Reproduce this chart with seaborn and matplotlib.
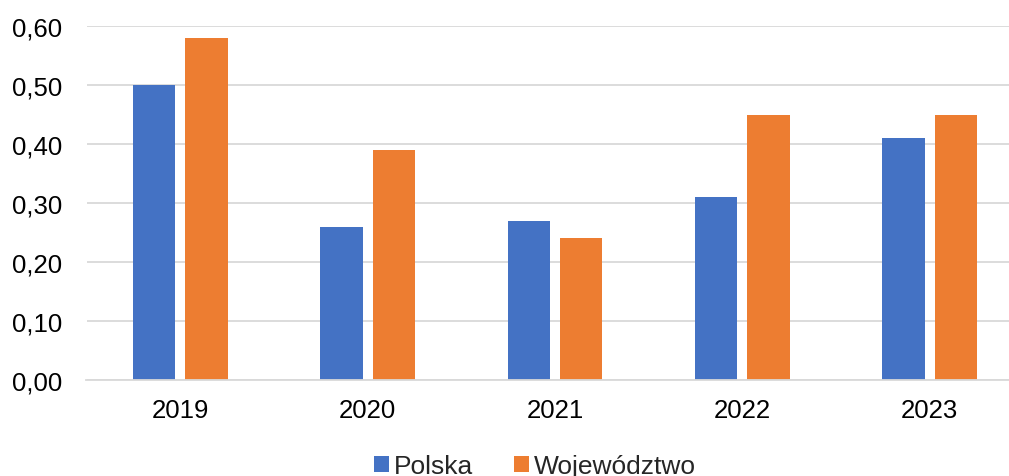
import matplotlib
matplotlib.use("Agg")
import matplotlib.pyplot as plt
import seaborn as sns
import pandas as pd
from matplotlib.ticker import FuncFormatter
from matplotlib.patches import Patch

years = ["2019", "2020", "2021", "2022", "2023"]
polska = [0.50, 0.26, 0.27, 0.31, 0.41]
wojewodztwo = [0.58, 0.39, 0.24, 0.45, 0.45]
series_names = ["Polska", "Województwo"]
colors = ["#4472C4", "#ED7D31"]

df = pd.DataFrame({
    "year": years * 2,
    "value": polska + wojewodztwo,
    "series": [series_names[0]] * len(years) + [series_names[1]] * len(years),
})

sns.set_theme(style="white")
plt.rcParams["font.family"] = ["Liberation Sans", "DejaVu Sans"]

fig = plt.figure(figsize=(10.09, 4.77), dpi=100)
W, H = 1009, 477
left, right, top, bottom = 86.5, 1023.5, 27, 381
ax = fig.add_axes([left / W, (H - bottom) / H, (right - left) / W, (bottom - top) / H])

sns.barplot(data=df, x="year", y="value", hue="series", palette=colors,
            width=0.56, gap=0.19, ax=ax, legend=False, saturation=1,
            linewidth=0, edgecolor="none")

ax.set_ylim(0, 0.6)
ax.set_yticks([0, 0.1, 0.2, 0.3, 0.4, 0.5, 0.6])
ax.yaxis.set_major_formatter(FuncFormatter(lambda v, p: f"{v:.2f}".replace(".", ",")))
ax.grid(axis="y", color="#D9D9D9", linewidth=1.3)
ax.set_axisbelow(True)
for s in ["top", "right", "left"]:
    ax.spines[s].set_visible(False)
ax.spines["bottom"].set_color("#D9D9D9")
ax.spines["bottom"].set_linewidth(1.3)
ax.tick_params(axis="both", length=0, labelsize=18.5, colors="black")
ax.tick_params(axis="y", pad=17.5)
ax.tick_params(axis="x", pad=13)
ax.set_xlabel("")
ax.set_ylabel("")

handles = [Patch(facecolor=c, edgecolor="none") for c in colors]
fig.legend(handles, series_names, loc="center", bbox_to_anchor=(535 / W, 1 - 467 / H),
           ncol=2, frameon=False, fontsize=19, handlelength=0.55, handleheight=0.55,
           handletextpad=0.2, columnspacing=1.55, borderpad=0)

fig.savefig("out.png", dpi=100)
